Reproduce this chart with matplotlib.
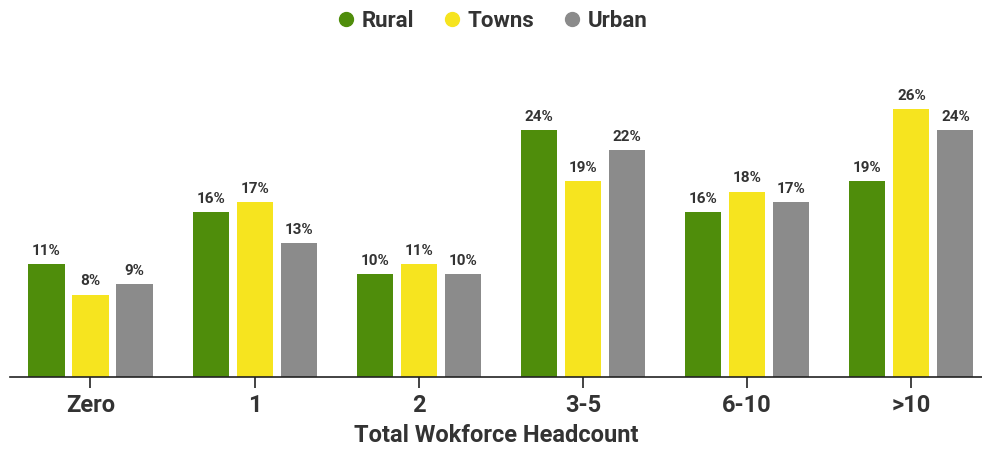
import matplotlib
matplotlib.use("Agg")
import matplotlib.pyplot as plt
from matplotlib.lines import Line2D
import numpy as np

plt.rcParams['font.family'] = ['Roboto', 'DejaVu Sans']

categories = ['Zero', '1', '2', '3-5', '6-10', '>10']
rural = [11, 16, 10, 24, 16, 19]
towns = [8, 17, 11, 19, 18, 26]
urban = [9, 13, 10, 22, 17, 24]

series = [('Rural', rural, '#4f8d0b'), ('Towns', towns, '#f6e41f'), ('Urban', urban, '#8b8b8b')]
text_color = '#333333'

fig = plt.figure(figsize=(9.82, 4.49), dpi=100)
ax = fig.add_axes([10 / 982, 1 - 377 / 449, 972 / 982, 300 / 449])

x = np.arange(len(categories))
width = 0.22
step = 0.268
for i, (name, vals, color) in enumerate(series):
    pos = x + (i - 1) * step
    ax.bar(pos, vals, width, color=color, zorder=2)
    for xb, v in zip(pos, vals):
        ax.text(xb, v + 0.6, f'{v}%', ha='center', va='bottom', fontsize=11,
                fontweight='bold', color=text_color)

ax.set_xlim(-0.49, 5.43)
ax.set_ylim(0, 300 / 10.3)
ax.set_xticks(x)
ax.set_xticklabels(categories, fontsize=17, fontweight='bold', color=text_color)
ax.tick_params(axis='x', length=8, width=1.2, color='#222222', pad=4)
ax.set_yticks([])
for s in ['top', 'right', 'left']:
    ax.spines[s].set_visible(False)
ax.spines['bottom'].set_color('#222222')
ax.spines['bottom'].set_linewidth(1.2)
ax.set_xlabel('Total Wokforce Headcount', fontsize=17, fontweight='bold',
              color=text_color, labelpad=5)

handles = [Line2D([], [], marker='o', linestyle='', markersize=10, color=c) for _, _, c in series]
fig.legend(handles, [n for n, _, _ in series], loc='upper center', bbox_to_anchor=(0.5, 1.022),
           ncol=3, frameon=False, handlelength=1.0, handletextpad=0.2, columnspacing=1.2,
           prop={'size': 16, 'weight': 'bold'}, labelcolor=text_color)

fig.savefig('out.png', dpi=100)
